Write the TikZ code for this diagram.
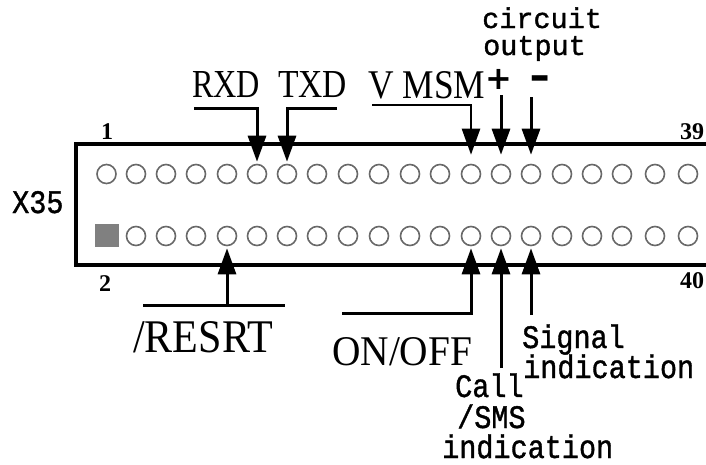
\documentclass[tikz,border=0pt]{standalone}
\usepackage{fontspec}
\setmainfont{Liberation Serif}
\newfontfamily\monof[FakeBold=1.2]{Liberation Mono}
\newfontfamily\symf{DejaVu Sans}
\usetikzlibrary{arrows.meta}
\definecolor{pingray}{RGB}{105,105,105}
\definecolor{sqgray}{RGB}{128,128,128}
\newcommand{\mt}[1]{\scalebox{1}[1.15]{#1}}
\begin{document}
\begin{tikzpicture}[x=1pt,y=-1pt,
  pinc/.style={circle, draw=pingray, line width=1.6pt, minimum size=19pt, inner sep=0pt},
  sqpin/.style={rectangle, fill=sqgray, minimum width=24pt, minimum height=23pt, inner sep=0pt},
  sig/.style={line width=3pt, -{Triangle[width=18pt,length=26pt]}},
  wire/.style={line width=3pt},
  big/.style={anchor=base west, inner sep=0pt, font=\fontsize{32}{32}\selectfont},
  mono/.style={anchor=base west, inner sep=0pt, font=\monof\fontsize{28.5}{30}\selectfont},
  num/.style={anchor=base, inner sep=0pt, font=\bfseries\fontsize{24}{24}\selectfont},
  pm/.style={inner sep=0pt, font=\symf\bfseries\fontsize{32}{32}\selectfont},
]
\useasboundingbox (0,0) rectangle (706,464);
% connector body
\draw[line width=4pt] (712,143.5) -- (76,143.5) -- (76,265) -- (712,265);
% pins
\foreach \x [count=\k from 0] in {106.5,136,166,196,227,257,287,317,348,379,410,440,471,501,531,562,592,622,655,688} {
  \pgfmathtruncatemacro\odd{2*\k+1}
  \pgfmathtruncatemacro\even{2*\k+2}
  \node[pinc] (p\odd) at (\x,174) {};
  \ifnum\k=0
    \node[sqpin] (p\even) at (\x,235) {};
  \else
    \node[pinc] (p\even) at (\x,236) {};
  \fi
}
% pin numbers
\node[num] (n1) at (107,139) {1};
\node[num] (n2) at (105,291) {2};
\node[num] (n39) at (692,139) {39};
\node[num] (n40) at (692,288) {40};
\node[mono] (x35) at (12,213) {\mt{X35}};
% top labels
\node[big] (rxd) at (192,97) {\resizebox{68pt}{26pt}{RXD}};
\node[big] (txd) at (278,97) {\resizebox{69pt}{26pt}{TXD}};
\node[big] (vmsm) at (368,98) {\resizebox{117pt}{27pt}{V MSM}};
\node[mono] (circ) at (482,28) {circuit};
\node[mono] (outp) at (483,55) {output};
\node[pm] (plus) at (499,79) {+};
\node[pm, anchor=base] (minus) at (540,89) {\scalebox{1.6}[1.2]{-}};
% top connectors
\coordinate (rxdL) at (194,108);
\coordinate (txdR) at (337,108);
\coordinate (vmsmL) at (372,105);
\coordinate (plusA) at (501,95);
\coordinate (minusA) at (531,97);
\draw[sig, shorten >=2pt] (rxdL) -| (p11.north);
\draw[sig, shorten >=2pt] (txdR) -| (p13.north);
\draw[sig, line width=2.5pt, shorten >=9pt] (vmsmL) -| (p25.north);
\draw[sig, shorten >=9pt] (p27.north |- plusA) -- (p27.north);
\draw[sig, shorten >=9pt] (p29.north |- minusA) -- (p29.north);
% bottom labels
\node[big] (resrt) at (133,352) {\resizebox{140pt}{31pt}{/RESRT}};
\node[big] (onoff) at (332,365) {\resizebox{140pt}{28pt}{ON/OFF}};
\node[mono] (sig1) at (522,348) {\mt{Signal}};
\node[mono] (sig2) at (523,378) {\mt{indication}};
\node[mono] (call1) at (455,397) {\mt{Call}};
\node[mono] (call2) at (457,428) {\mt{/SMS}};
\node[mono] (call3) at (442,458) {\mt{indication}};
% bottom connectors
\coordinate (resL) at (143,305);
\coordinate (resR) at (285,305);
\coordinate (onL) at (342,313);
\coordinate (callA) at (500,368);
\coordinate (sigA) at (531,315);
\draw[wire] (resL) -- (resR);
\draw[sig, shorten >=2pt] (p10.south |- resL) -- (p10.south);
\draw[sig, shorten >=2pt] (onL) -| (p26.south);
\draw[sig, shorten >=2pt] (p28.south |- callA) -- (p28.south);
\draw[sig, shorten >=2pt] (p30.south |- sigA) -- (p30.south);
\end{tikzpicture}
\end{document}
